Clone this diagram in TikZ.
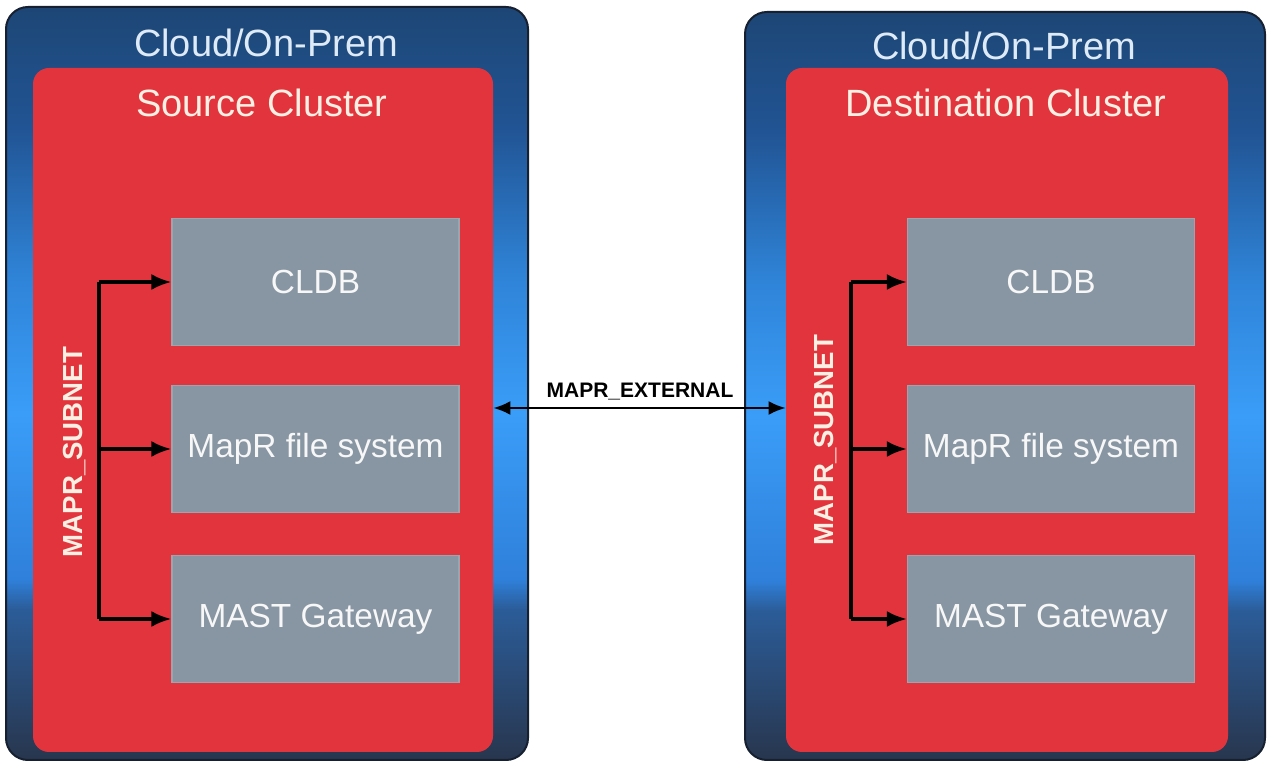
\documentclass[tikz,border=0pt]{standalone}
\usepackage{fontspec}
\setmainfont{Liberation Sans}
\usetikzlibrary{arrows.meta,positioning}

\definecolor{skytop}{RGB}{29,70,117}
\definecolor{skyhigh}{RGB}{33,84,148}
\definecolor{skymid}{RGB}{47,132,216}
\definecolor{skylight}{RGB}{58,157,248}
\definecolor{skylow}{RGB}{47,128,218}
\definecolor{skydeep}{RGB}{43,92,152}
\definecolor{skybot}{RGB}{40,54,78}
\definecolor{clusterred}{RGB}{226,52,60}
\definecolor{svcgray}{RGB}{135,150,162}
\definecolor{titleblue}{RGB}{222,234,246}
\definecolor{titlecream}{RGB}{252,240,228}

\pgfdeclareverticalshading{cloudsky}{100bp}{
  color(0bp)=(skybot); color(25bp)=(skybot); color(35bp)=(skydeep);
  color(37bp)=(skylow); color(48bp)=(skylight); color(57bp)=(skymid);
  color(67bp)=(skyhigh); color(75bp)=(skytop); color(100bp)=(skytop)}

\tikzset{
  cloudbox/.style={shading=cloudsky,draw={rgb,255:red,22;green,32;blue,48},
    line width=1pt,rounded corners=11pt,inner sep=0pt},
  clusterbox/.style={fill=clusterred,rounded corners=8pt,inner sep=0pt},
  svcbox/.style={fill=svcgray,draw=svcgray!85!white,line width=0.6pt,
    minimum width=143.5pt,minimum height=63.5pt,inner sep=0pt,
    text=white!94!gray,font=\fontsize{16.7}{18}\selectfont},
  cloudtitle/.style={text=titleblue,font=\fontsize{19}{21}\selectfont},
  clustertitle/.style={text=titlecream,font=\fontsize{19}{21}\selectfont},
  subnetlabel/.style={rotate=90,text=titlecream,
    font=\fontsize{13.8}{15}\selectfont\bfseries},
  busline/.style={line width=1.7pt},
  busarrow/.style={line width=1.7pt,-{Latex[length=10pt,width=8pt]}},
  extarrow/.style={line width=1.1pt,{Latex[length=8.5pt,width=7pt]}-{Latex[length=8.5pt,width=7pt]}}
}

\begin{document}
\begin{tikzpicture}[x=0.5pt,y=-0.5pt]
\useasboundingbox (0,0) rectangle (1269,763);

% source side
\node[cloudbox,minimum width=261pt,minimum height=376.5pt] (srccloud) at (267,383.5) {};
\node[clusterbox,minimum width=230pt,minimum height=342pt] (srccluster) at (263,410) {};
\node[cloudtitle] (srccloudlbl) at (266,43) {Cloud/On-Prem};
\node[clustertitle] (srcclusterlbl) at (262,103) {Source Cluster};
\node[svcbox] (srccldb) at (315.5,282) {CLDB};
\node[svcbox] (srcfs) at (315.5,449) {MapR file system};
\node[svcbox] (srcgw) at (315.5,619) {MAST Gateway};
\node[subnetlabel] (srcsubnet) at (75,452) {MAPR\_SUBNET};
\coordinate (srcbus) at (99,0);
\draw[busline] (srccldb.west -| srcbus) -- (srcgw.west -| srcbus);
\draw[busarrow] (srccldb.west -| srcbus) -- (srccldb.west);
\draw[busarrow] (srcfs.west -| srcbus) -- (srcfs.west);
\draw[busarrow] (srcgw.west -| srcbus) -- (srcgw.west);

% destination side
\node[cloudbox,minimum width=260pt,minimum height=374pt] (dstcloud) at (1005,386) {};
\node[clusterbox,minimum width=221pt,minimum height=342pt] (dstcluster) at (1007,410) {};
\node[cloudtitle] (dstcloudlbl) at (1004,46) {Cloud/On-Prem};
\node[clustertitle] (dstclusterlbl) at (1006,103) {Destination Cluster};
\node[svcbox] (dstcldb) at (1051,282) {CLDB};
\node[svcbox] (dstfs) at (1051,449) {MapR file system};
\node[svcbox] (dstgw) at (1051,619) {MAST Gateway};
\node[subnetlabel] (dstsubnet) at (826,440) {MAPR\_SUBNET};
\coordinate (dstbus) at (851,0);
\draw[busline] (dstcldb.west -| dstbus) -- (dstgw.west -| dstbus);
\draw[busarrow] (dstcldb.west -| dstbus) -- (dstcldb.west);
\draw[busarrow] (dstfs.west -| dstbus) -- (dstfs.west);
\draw[busarrow] (dstgw.west -| dstbus) -- (dstgw.west);

% link between clusters
\coordinate (ext) at (640,408);
\draw[extarrow] (ext -| srccluster.east) -- (ext -| dstcluster.west);
\node[font=\fontsize{10.5}{12}\selectfont\bfseries] (extlbl) at (640,392) {MAPR\_EXTERNAL};
\end{tikzpicture}
\end{document}
